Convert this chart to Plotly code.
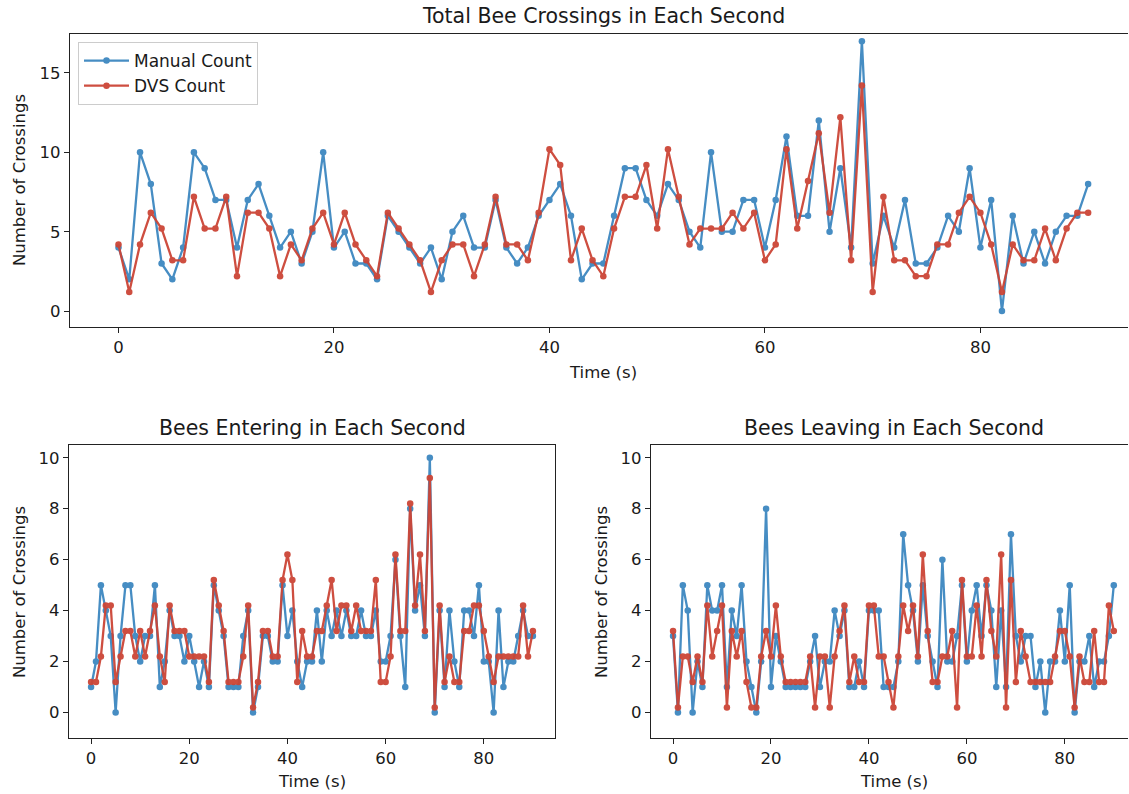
import plotly.graph_objects as go

# ---------------- data ----------------
seconds = list(range(91))

manual_total = [4, 2, 10, 8, 3, 2, 4, 10, 9, 7, 7, 4, 7, 8, 6, 4, 5, 3, 5, 10,
                4, 5, 3, 3, 2, 6, 5, 4, 3, 4, 2, 5, 6, 4, 4, 7, 4, 3, 4, 6,
                7, 8, 6, 2, 3, 3, 6, 9, 9, 7, 6, 8, 7, 5, 4, 10, 5, 5, 7, 7,
                4, 7, 11, 6, 6, 12, 5, 9, 4, 17, 3, 6, 4, 7, 3, 3, 4, 6, 5, 9,
                4, 7, 0, 6, 3, 5, 3, 5, 6, 6, 8]
dvs_total = [4, 1, 4, 6, 5, 3, 3, 7, 5, 5, 7, 2, 6, 6, 5, 2, 4, 3, 5, 6,
             4, 6, 4, 3, 2, 6, 5, 4, 3, 1, 3, 4, 4, 2, 4, 7, 4, 4, 3, 6,
             10, 9, 3, 5, 3, 2, 5, 7, 7, 9, 5, 10, 7, 4, 5, 5, 5, 6, 5, 6,
             3, 4, 10, 5, 8, 11, 6, 12, 3, 14, 1, 7, 3, 3, 2, 2, 4, 4, 6, 7,
             6, 4, 1, 4, 3, 3, 5, 3, 5, 6, 6]

manual_enter = [1, 2, 5, 4, 3, 0, 3, 5, 5, 3, 2, 3, 3, 5, 1, 2, 4, 3, 3, 2,
                3, 2, 1, 2, 1, 5, 4, 3, 1, 1, 1, 3, 4, 0, 1, 3, 3, 2, 2, 5,
                3, 4, 2, 1, 2, 2, 4, 2, 4, 3, 4, 3, 4, 3, 3, 4, 3, 3, 4, 2,
                2, 3, 6, 3, 1, 8, 4, 5, 3, 10, 0, 4, 1, 4, 2, 1, 4, 4, 3, 5,
                2, 2, 0, 4, 1, 2, 2, 3, 4, 3, 3]
dvs_enter = [1, 1, 2, 4, 4, 1, 2, 3, 3, 2, 3, 2, 3, 4, 2, 1, 4, 3, 3, 3,
             2, 2, 2, 2, 1, 5, 4, 3, 1, 1, 1, 2, 4, 0, 1, 3, 3, 2, 2, 5,
             6, 5, 1, 3, 2, 2, 3, 3, 4, 5, 3, 4, 4, 3, 4, 3, 3, 3, 5, 1,
             1, 2, 6, 3, 3, 8, 4, 6, 3, 9, 0, 4, 1, 2, 1, 1, 3, 3, 4, 4,
             3, 2, 1, 2, 2, 2, 2, 2, 4, 2, 3]

manual_leave = [3, 0, 5, 4, 0, 2, 1, 5, 4, 4, 5, 1, 4, 3, 5, 2, 1, 0, 2, 8,
                1, 3, 2, 1, 1, 1, 1, 1, 2, 3, 1, 2, 2, 4, 3, 4, 1, 1, 2, 1,
                4, 4, 4, 1, 1, 1, 2, 7, 5, 4, 2, 5, 3, 2, 1, 6, 2, 2, 3, 5,
                2, 4, 5, 3, 5, 4, 1, 4, 1, 7, 3, 2, 3, 3, 1, 2, 0, 2, 2, 4,
                2, 5, 0, 2, 2, 3, 1, 2, 2, 3, 5]
dvs_leave = [3, 0, 2, 2, 1, 2, 1, 4, 2, 3, 4, 0, 3, 2, 3, 1, 0, 0, 2, 3,
             2, 4, 2, 1, 1, 1, 1, 1, 2, 0, 2, 2, 0, 2, 3, 4, 1, 2, 1, 1,
             4, 4, 2, 2, 1, 0, 2, 4, 3, 4, 2, 6, 3, 1, 1, 2, 2, 3, 0, 5,
             2, 2, 4, 2, 5, 3, 2, 6, 0, 5, 1, 3, 2, 1, 1, 1, 1, 1, 2, 3,
             3, 2, 0, 2, 1, 1, 3, 1, 1, 4, 3]

# DVS series drawn with a small vertical offset so it does not hide the manual one
DVS_OFFSET = 0.2

BLUE = "#3d87c0"
RED = "#cc4536"
FONT = "DejaVu Sans"
TXT = "#1a1a1a"
W, H = 1129, 794


def px_x(a, b):
    return [a / W, b / W]


def px_y(top, bottom):
    return [(H - bottom) / H, (H - top) / H]


fig = go.Figure()

panels = [
    ("x", "y", manual_total, dvs_total, True),
    ("x2", "y2", manual_enter, dvs_enter, False),
    ("x3", "y3", manual_leave, dvs_leave, False),
]
for xa, ya, man, dvs, show in panels:
    fig.add_trace(go.Scatter(
        x=seconds, y=man, mode="lines+markers", name="Manual Count",
        line=dict(color=BLUE, width=2.3), marker=dict(size=6.5, color=BLUE),
        xaxis=xa, yaxis=ya, showlegend=show, opacity=0.95))
    fig.add_trace(go.Scatter(
        x=seconds, y=[v + DVS_OFFSET for v in dvs], mode="lines+markers",
        name="DVS Count",
        line=dict(color=RED, width=2.3), marker=dict(size=6.5, color=RED),
        xaxis=xa, yaxis=ya, showlegend=show, opacity=0.95))


def axis(mirror=True):
    return dict(showline=True, linecolor="#222", linewidth=1.2, mirror=mirror,
                ticks="outside", ticklen=5, tickwidth=1.1, tickcolor="#222",
                showgrid=False, zeroline=False,
                tickfont=dict(family=FONT, size=16.5, color=TXT))


fig.update_layout(
    width=W, height=H,
    margin=dict(l=0, r=0, t=0, b=0),
    paper_bgcolor="white", plot_bgcolor="white",
    font=dict(family=FONT, color=TXT),
    xaxis=dict(domain=px_x(70, 1128), range=[-4.5, 93.7], tickvals=[0, 20, 40, 60, 80],
               anchor="y", **axis(True)),
    yaxis=dict(domain=px_y(34, 327), range=[-1, 17.45], tickvals=[0, 5, 10, 15],
               anchor="x", **axis(False)),
    xaxis2=dict(domain=px_x(69, 555), range=[-4.5, 94.5], tickvals=[0, 20, 40, 60, 80],
                anchor="y2", **axis(True)),
    yaxis2=dict(domain=px_y(445, 738), range=[-1, 10.5], tickvals=[0, 2, 4, 6, 8, 10],
                anchor="x2", **axis(True)),
    xaxis3=dict(domain=px_x(651, 1128), range=[-4.5, 92.9], tickvals=[0, 20, 40, 60, 80],
                anchor="y3", **axis(True)),
    yaxis3=dict(domain=px_y(445, 738), range=[-1, 10.5], tickvals=[0, 2, 4, 6, 8, 10],
                anchor="x3", **axis(False)),
    legend=dict(x=78 / W, y=(H - 42) / H, xanchor="left", yanchor="top",
                bgcolor="rgba(255,255,255,0.85)", bordercolor="#cccccc", borderwidth=1,
                font=dict(family=FONT, size=17, color=TXT),
                itemwidth=45, tracegroupgap=4),
    showlegend=True,
)


def ann(text, x, y, size, angle=0):
    fig.add_annotation(text=text, x=x / W, y=(H - y) / H, xref="paper", yref="paper",
                       showarrow=False, textangle=angle, xanchor="center", yanchor="middle",
                       font=dict(family=FONT, size=size, color=TXT))


# titles
ann("Total Bee Crossings in Each Second", 603, 16, 20.5)
ann("Bees Entering in Each Second", 312, 428, 20.5)
ann("Bees Leaving in Each Second", 894, 428, 20.5)
# x-axis labels
ann("Time (s)", 603, 372, 16.5)
ann("Time (s)", 312, 781, 16.5)
ann("Time (s)", 894, 781, 16.5)
# y-axis labels
ann("Number of Crossings", 19, 180, 16.5, -90)
ann("Number of Crossings", 19, 592, 16.5, -90)
ann("Number of Crossings", 601, 592, 16.5, -90)

fig.write_html("out.html")
